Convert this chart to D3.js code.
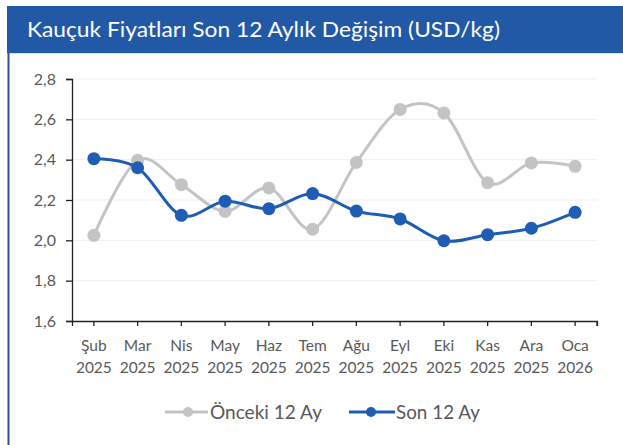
<!DOCTYPE html>
<html><head><meta charset="utf-8">
<script src="https://cdn.jsdelivr.net/npm/d3@7"></script>
<style>
html,body{margin:0;padding:0;background:#fff;}
svg{display:block;}
</style></head>
<body>
<svg id="c" width="623" height="445"></svg>
<script>
const title = "Kauçuk Fiyatları Son 12 Aylık Değişim (USD/kg)";
const months = ["Şub","Mar","Nis","May","Haz","Tem","Ağu","Eyl","Eki","Kas","Ara","Oca"];
const years = ["2025","2025","2025","2025","2025","2025","2025","2025","2025","2025","2025","2026"];
const prevName = "Önceki 12 Ay";
const lastName = "Son 12 Ay";
const prevValues = [2.025, 2.397, 2.276, 2.144, 2.26, 2.055, 2.386, 2.649, 2.632, 2.286, 2.384, 2.367];
const lastValues = [2.405, 2.36, 2.124, 2.194, 2.157, 2.232, 2.145, 2.106, 1.998, 2.028, 2.06, 2.139];
const yTicks = [1.6, 1.8, 2.0, 2.2, 2.4, 2.6, 2.8];

const svg = d3.select("#c");
const FONT = "Lato, 'Open Sans', sans-serif";

// title bar
svg.append("rect").attr("x",7).attr("y",6).attr("width",616).attr("height",47).attr("fill","#2159a7");
svg.append("line").attr("x1",7).attr("x2",623).attr("y1",53.5).attr("y2",53.5).attr("stroke","#cfe6f5").attr("stroke-width",1);
svg.append("text").attr("x",27).attr("y",37).attr("fill","#fff")
  .attr("font-family",FONT).attr("font-size",20.5)
  .attr("textLength",473).attr("lengthAdjust","spacingAndGlyphs")
  .text(title);
// left border
svg.append("line").attr("x1",8.5).attr("x2",8.5).attr("y1",53).attr("y2",445).attr("stroke","#2d5390").attr("stroke-width",2);

const x = d3.scaleBand().domain(d3.range(months.length)).range([72,597]);
const xc = i => x(i) + x.bandwidth()/2;
const y = d3.scaleLinear().domain([1.6,2.8]).range([321,79]);

// gridlines
svg.append("g").selectAll("line").data(yTicks.slice(1)).join("line")
  .attr("x1",72).attr("x2",597).attr("y1",d=>y(d)).attr("y2",d=>y(d))
  .attr("stroke","#efefef").attr("stroke-width",1);

// y axis
const yAxis = d3.axisLeft(y).tickValues(yTicks).tickSize(6).tickPadding(10)
  .tickFormat(d => d3.format(".1f")(d).replace(".",","));
const gy = svg.append("g").attr("transform","translate(72,0)").call(yAxis);
gy.select(".domain").attr("stroke","#222").attr("stroke-width",1.3);
gy.selectAll(".tick line").attr("stroke","#222").attr("stroke-width",1.3);
gy.selectAll("text").attr("fill","#595959").attr("font-family",FONT).attr("font-size",16);

// x axis
const xAxis = d3.axisBottom(x).tickSize(5).tickFormat("");
const gx = svg.append("g").attr("transform","translate(0,321)").call(xAxis);
gx.select(".domain").attr("stroke","#222").attr("stroke-width",1.3);
gx.selectAll(".tick line").attr("stroke","#222").attr("stroke-width",1.3);
gx.append("line").attr("x1",597).attr("x2",597).attr("y1",0).attr("y2",5).attr("stroke","#222").attr("stroke-width",1.3);
const lab = svg.append("g").selectAll("text").data(months).join("text")
  .attr("x",(d,i)=>xc(i)).attr("y",351).attr("text-anchor","middle")
  .attr("fill","#595959").attr("font-family",FONT).attr("font-size",15.5);
lab.append("tspan").attr("x",(d,i)=>xc(i)).attr("dy",0).text(d=>d);
lab.append("tspan").attr("x",(d,i)=>xc(i)).attr("dy",21.5).text((d,i)=>years[i]);

// lines
const line = d3.line().x((d,i)=>xc(i)).y(d=>y(d)).curve(d3.curveCardinal.tension(0));
const series = [
  {name: prevName, values: prevValues, color:"#c4c4c4"},
  {name: lastName, values: lastValues, color:"#1f5cb3"}
];
series.forEach(s => {
  svg.append("path").datum(s.values).attr("d",line).attr("fill","none")
    .attr("stroke",s.color).attr("stroke-width",3);
  svg.append("g").selectAll("circle").data(s.values).join("circle")
    .attr("cx",(d,i)=>xc(i)).attr("cy",d=>y(d)).attr("r",6.5).attr("fill",s.color);
});

// legend
const leg = [
  {name: prevName, color:"#c4c4c4", x1:165, x2:208, mx:188, tx:210, tw:112},
  {name: lastName, color:"#1f5cb3", x1:349, x2:395, mx:371, tx:396, tw:84}
];
leg.forEach(l => {
  svg.append("line").attr("x1",l.x1).attr("x2",l.x2).attr("y1",412).attr("y2",412)
    .attr("stroke",l.color).attr("stroke-width",3);
  svg.append("circle").attr("cx",l.mx).attr("cy",412).attr("r",5).attr("fill",l.color);
  svg.append("text").attr("x",l.tx).attr("y",418.5).attr("fill","#595959")
    .attr("font-family",FONT).attr("font-size",18.5)
    .attr("textLength",l.tw).attr("lengthAdjust","spacingAndGlyphs").text(l.name);
});
</script>
</body></html>
